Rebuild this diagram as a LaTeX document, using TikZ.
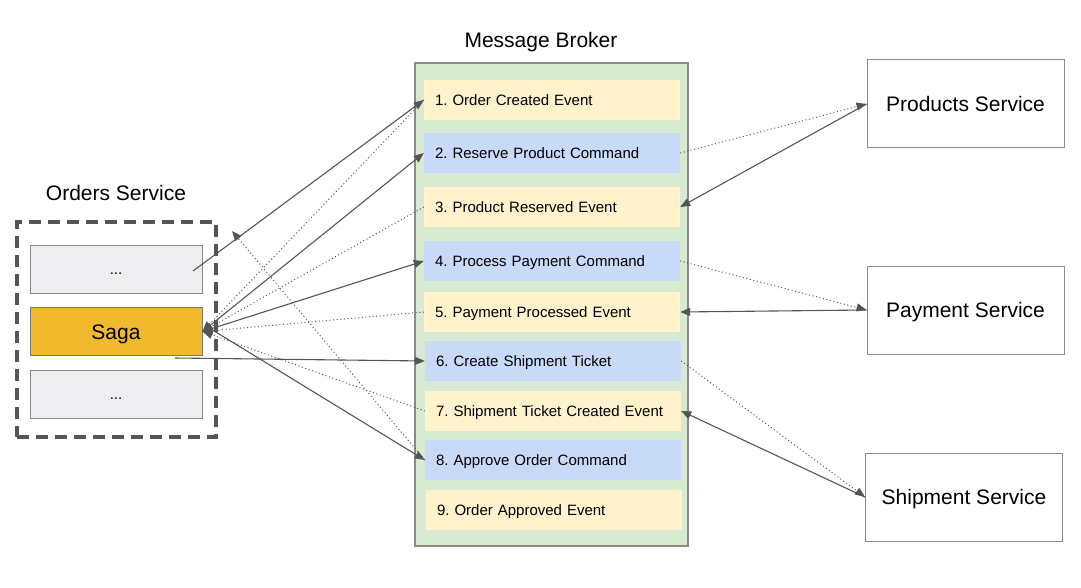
\documentclass[tikz,border=0pt]{standalone}
\usepackage{fontspec}
\setmainfont{Liberation Sans}
\usetikzlibrary{arrows.meta}
\frenchspacing
\definecolor{evy}{HTML}{FFF2CC}
\definecolor{cmb}{HTML}{C9DAF8}
\definecolor{brk}{HTML}{D9EAD3}
\definecolor{sagaC}{HTML}{F1B92E}
\definecolor{lg}{HTML}{EEEDF0}
\definecolor{ln}{HTML}{555555}
\definecolor{bd}{HTML}{8A8A8A}
\begin{document}
\begin{tikzpicture}[x=1pt,y=-1pt,
 item/.style={rectangle, inner xsep=11pt, inner ysep=0pt, text width=234pt, minimum height=40pt, align=left, text height=11pt, text depth=0pt, font=\fontsize{15}{18}\selectfont},
 evt/.style={item, fill=evy},
 cmd/.style={item, fill=cmb},
 svc/.style={draw=bd, line width=1pt, fill=white, minimum width=197pt, minimum height=88pt, inner sep=0pt, text height=15pt, text depth=0pt, font=\fontsize{21}{25}\selectfont},
 sub/.style={draw=bd, line width=1pt, minimum width=172pt, minimum height=48pt, inner sep=0pt},
 lbl/.style={font=\fontsize{21}{25}\selectfont},
 arr/.style={draw=ln, line width=1.1pt, -{Triangle[length=10pt,width=8pt]}},
 dotarr/.style={draw=ln, line width=1pt, dash pattern=on 1pt off 2.6pt, -{Triangle[length=10pt,width=8pt]}},
]
\useasboundingbox (0,0) rectangle (1081,588);

% Message broker
\node[draw=bd, line width=1.5pt, fill=brk, minimum width=273pt, minimum height=483pt, inner sep=0pt] (broker) at (551.5,304.5) {};
\node[lbl] (brokerlbl) at (541,42) {Message Broker};
\node[evt] (m1) at (552,100) {1. Order Created Event};
\node[cmd] (m2) at (552,153) {2. Reserve Product Command};
\node[evt] (m3) at (552,207) {3. Product Reserved Event};
\node[cmd] (m4) at (552,261) {4. Process Payment Command};
\node[evt] (m5) at (552,312) {5. Payment Processed Event};
\node[cmd] (m6) at (553,361) {6. Create Shipment Ticket};
\node[evt] (m7) at (553,411) {7. Shipment Ticket Created Event};
\node[cmd] (m8) at (553,460) {8. Approve Order Command};
\node[evt] (m9) at (554,510) {9. Order Approved Event};

% Orders service
\node[lbl] (orderslbl) at (116,193) {Orders Service};
\node[draw=ln, line width=3.5pt, dash pattern=on 12pt off 7pt, minimum width=199pt, minimum height=215pt, inner sep=0pt] (orders) at (116.5,329.5) {};
\node[sub, fill=lg, font=\fontsize{15}{18}\selectfont, text height=11pt, text depth=0pt] (o1) at (116,269) {...};
\node[sub, fill=sagaC, draw=ln!80, lbl, text height=15pt, text depth=0pt] (saga) at (116,331.5) {Saga};
\node[sub, fill=lg, font=\fontsize{15}{18}\selectfont, text height=11pt, text depth=0pt] (o3) at (116,394) {...};

% Services
\node[svc] (prod) at (965.5,104) {Products Service};
\node[svc] (pay) at (965.5,310) {Payment Service};
\node[svc] (ship) at (964,497) {Shipment Service};

% free ends
\coordinate (p1) at (193,271);
\coordinate (p6) at (175,358);
\coordinate (p8) at (232,231);

% left connectors
\draw[arr] (p1) -- (m1.west);
\draw[dotarr] (m1.west) -- (saga.east);
\draw[arr] (saga.east) -- (m2.west);
\draw[dotarr] (m3.west) -- (saga.east);
\draw[arr] (saga.east) -- (m4.west);
\draw[dotarr] (m5.west) -- (saga.east);
\draw[arr] (p6) -- (m6.west);
\draw[dotarr] (m7.west) -- (saga.east);
\draw[arr] ([xshift=6pt,yshift=4pt]saga.east) -- (m8.west);
\draw[dotarr] (m8.west) -- (p8);

% right connectors
\draw[dotarr] (m2.east) -- (prod.west);
\draw[arr] (prod.west) -- (m3.east);
\draw[dotarr] (m4.east) -- (pay.west);
\draw[arr] (pay.west) -- (m5.east);
\draw[dotarr] (m6.east) -- (ship.west);
\draw[arr] (ship.west) -- (m7.east);
\end{tikzpicture}
\end{document}
